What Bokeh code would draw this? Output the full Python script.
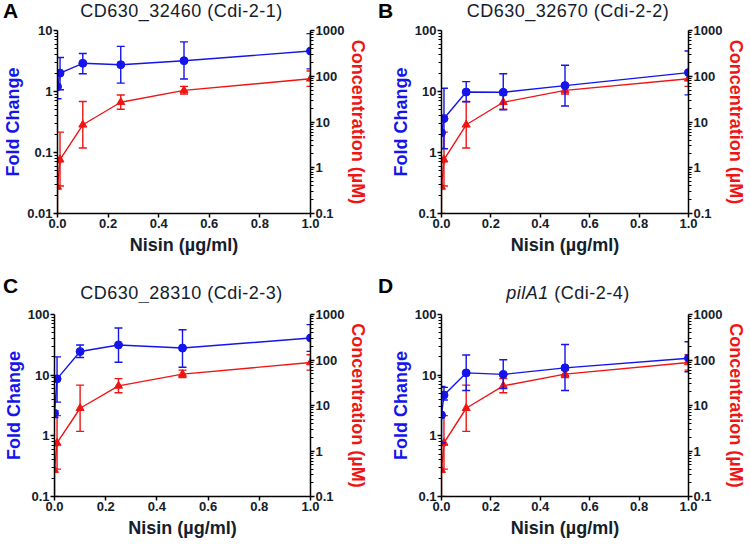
from bokeh.plotting import figure
from bokeh.layouts import column, row
from bokeh.models import (Range1d, LogAxis, LogScale, FixedTicker, Div,
                          CustomJSTickFormatter, PrintfTickFormatter)
from bokeh.embed import file_html
from bokeh.resources import INLINE

# ---------------- data ----------------
nisin = [0.0, 0.01, 0.1, 0.25, 0.5, 1.0]

# nisin concentration measured (uM), same in every panel
conc = [0.38, 1.5, 8.7, 27.0, 49.0, 88.0]
conc_lo = [0.1, 0.4, 2.7, 19.0, 41.0, 60.0]
conc_hi = [1.3, 6.0, 28.0, 39.0, 60.0, 130.0]

# fold change per gene
fold_a = [1.2, 2.0, 2.9, 2.75, 3.2, 4.6]
fold_a_lo = [0.76, 1.07, 1.95, 1.37, 1.6, 2.35]
fold_a_hi = [1.95, 3.6, 4.2, 5.5, 6.5, 8.9]

fold_b = [2.1, 3.6, 9.8, 9.7, 12.5, 20.4]
fold_b_lo = [1.17, 1.15, 6.8, 5.0, 5.8, 8.8]
fold_b_hi = [3.9, 11.3, 14.5, 19.5, 27.0, 46.0]

fold_c = [2.35, 8.7, 24.5, 31.5, 28.0, 41.0]
fold_c_lo = [2.0, 3.6, 19.5, 16.3, 13.5, 24.7]
fold_c_hi = [2.6, 20.0, 31.5, 60.0, 56.0, 68.0]

fold_d = [2.2, 4.7, 10.9, 10.3, 13.2, 19.0]
fold_d_lo = [0.76, 3.9, 5.6, 6.0, 5.6, 11.4]
fold_d_hi = [6.5, 6.3, 21.5, 18.0, 32.0, 35.5]

x_ticks = [0.0, 0.2, 0.4, 0.6, 0.8, 1.0]
fold_ticks_a = [0.01, 0.1, 1, 10]
fold_ticks_bcd = [0.1, 1, 10, 100]
conc_ticks = [0.1, 1, 10, 100, 1000]

titles = ["CD630_32460 (Cdi-2-1)", "CD630_32670 (Cdi-2-2)",
          "CD630_28310 (Cdi-2-3)", "(Cdi-2-4)"]
title_d_italic = "pilA1"
letters = ["A", "B", "C", "D"]

# ---------------- style ----------------
BLUE = "#1414ec"
RED = "#f01414"
INK = "#13202c"
FONT = "Liberation Sans"


def minors(major):
    out = []
    for d in major[:-1]:
        out += [d * k for k in range(2, 10)]
    return out


def style_axis(ax, label, color):
    ax.axis_label = label
    ax.axis_label_text_font = FONT
    ax.axis_label_text_font_style = "bold"
    ax.axis_label_text_font_size = "18px"
    ax.axis_label_text_color = color
    ax.axis_label_standoff = 1
    ax.major_label_text_font = FONT
    ax.major_label_text_font_style = "bold"
    ax.major_label_text_font_size = "13px"
    ax.major_label_text_color = INK
    ax.major_label_standoff = 1
    ax.axis_line_color = "black"
    ax.axis_line_width = 1.5
    ax.major_tick_line_color = "black"
    ax.major_tick_line_width = 1.5
    ax.major_tick_out = 4
    ax.major_tick_in = 0
    ax.minor_tick_line_color = "black"
    ax.minor_tick_line_width = 1
    ax.minor_tick_out = 3
    ax.minor_tick_in = 0


def header(idx, width, height, frame_left, frame_w, letter_top, title_top):
    if idx == 3:
        ttl = "<i>%s</i> %s" % (title_d_italic, titles[idx])
    else:
        ttl = titles[idx]
    html = (
        '<div style="position:relative;width:%dpx;height:%dpx;'
        'font-family:\'Liberation Sans\';color:%s;line-height:1;">'
        '<span style="position:absolute;left:3px;top:%dpx;font-size:21px;'
        'font-weight:bold;color:black;">%s</span>'
        '<span style="position:absolute;left:%dpx;width:%dpx;top:%dpx;'
        'text-align:center;font-size:18px;'
        'letter-spacing:0.5px;white-space:nowrap;">%s</span></div>'
        % (width, height, INK, letter_top, letters[idx], frame_left, frame_w,
           title_top, ttl))
    return Div(text=html, width=width, height=height, margin=0)


def panel(idx, fold, lo, hi, fold_ticks, width, height, bl, br, bt, bb):
    p = figure(width=width, height=height,
               x_range=Range1d(0, 1.0),
               y_range=Range1d(fold_ticks[0], fold_ticks[-1]),
               y_axis_type="log", output_backend="svg",
               toolbar_location=None,
               min_border_left=bl, min_border_right=br,
               min_border_top=bt, min_border_bottom=bb)
    p.grid.visible = False
    p.outline_line_color = None

    p.extra_y_ranges = {"conc": Range1d(conc_ticks[0], conc_ticks[-1])}
    p.extra_y_scales = {"conc": LogScale()}
    rax = LogAxis(y_range_name="conc")
    p.add_layout(rax, "right")

    xa = p.xaxis[0]
    xa.ticker = FixedTicker(ticks=x_ticks)
    xa.formatter = PrintfTickFormatter(format="%.1f")
    style_axis(xa, "Nisin (µg/ml)", INK)
    xa.axis_label_standoff = 4
    xa.minor_tick_out = 0

    la = p.yaxis[0]
    la.ticker = FixedTicker(ticks=fold_ticks, minor_ticks=minors(fold_ticks))
    la.formatter = CustomJSTickFormatter(code="return tick.toString();")
    style_axis(la, "Fold Change", BLUE)

    rax.ticker = FixedTicker(ticks=conc_ticks, minor_ticks=minors(conc_ticks))
    rax.formatter = CustomJSTickFormatter(code="return tick.toString();")
    style_axis(rax, "Concentration (µM)", RED)

    # red: nisin concentration (right axis)
    p.segment(nisin, conc_lo, nisin, conc_hi, y_range_name="conc",
              line_color=RED, line_width=1.4)
    p.scatter(nisin, conc_lo, marker="dash", size=8, y_range_name="conc",
              line_color=RED, line_width=1.4)
    p.scatter(nisin, conc_hi, marker="dash", size=8, y_range_name="conc",
              line_color=RED, line_width=1.4)
    p.line(nisin, conc, y_range_name="conc", line_color=RED, line_width=1.4)
    p.scatter(nisin, conc, marker="triangle", size=8, y_range_name="conc",
              fill_color=RED, line_color=RED)

    # blue: fold change (left axis)
    p.segment(nisin, lo, nisin, hi, line_color=BLUE, line_width=1.4)
    p.scatter(nisin, lo, marker="dash", size=8, line_color=BLUE, line_width=1.4)
    p.scatter(nisin, hi, marker="dash", size=8, line_color=BLUE, line_width=1.4)
    p.line(nisin, fold, line_color=BLUE, line_width=1.4)
    p.scatter(nisin, fold, marker="circle", size=8, fill_color=BLUE,
              line_color=BLUE)
    return p


# top row: header 22px + figure 250px ; bottom row: header 30px + figure 241px
pa = panel(0, fold_a, fold_a_lo, fold_a_hi, fold_ticks_a, 375, 250, 53, 65, 8, 59)
pb = panel(1, fold_b, fold_b_lo, fold_b_hi, fold_ticks_bcd, 374, 250, 66, 54, 8, 59)
pc = panel(2, fold_c, fold_c_lo, fold_c_hi, fold_ticks_bcd, 375, 241, 53, 65, 12, 47)
pd = panel(3, fold_d, fold_d_lo, fold_d_hi, fold_ticks_bcd, 374, 241, 66, 54, 12, 47)

ha = header(0, 375, 22, 53, 257, 0, 2)
hb = header(1, 374, 22, 66, 254, 0, 2)
hc = header(2, 375, 30, 53, 257, 3, 12)
hd = header(3, 374, 30, 66, 254, 3, 12)

layout = column(row(column(ha, pa), column(hb, pb)),
                row(column(hc, pc), column(hd, pd)))

open("out.html", "w").write(file_html(layout, INLINE))
